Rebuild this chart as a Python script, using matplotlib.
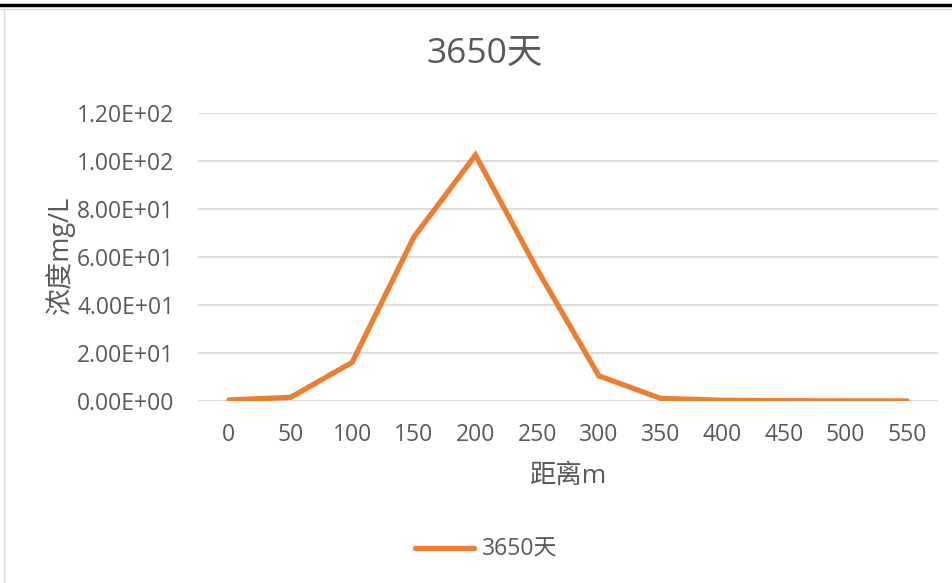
import matplotlib
matplotlib.use("Agg")
import matplotlib.pyplot as plt
from matplotlib.lines import Line2D

plt.rcParams['font.family'] = ['Open Sans', 'Noto Sans CJK SC', 'DejaVu Sans']

categories = ['0', '50', '100', '150', '200', '250', '300', '350', '400', '450', '500', '550']
values = [0.4, 1.5, 16.1, 68.3, 102.5, 54.8, 10.5, 1.1, 0.3, 0.1, 0.05, 0.02]
yticks = [0, 20, 40, 60, 80, 100, 120]
ytick_labels = ['0.00E+00', '2.00E+01', '4.00E+01', '6.00E+01', '8.00E+01', '1.00E+02', '1.20E+02']
series_name = '3650天'
title = '3650天'
xlabel = '距离m'
ylabel = '浓度mg/L'

W, H = 952, 583
fig = plt.figure(figsize=(W / 100, H / 100), dpi=100)
fig.patch.set_facecolor('white')

def fx(px):
    return px / W

def fy(py):
    return 1 - py / H

ax = fig.add_axes([fx(198), fy(401), fx(938) - fx(198), fy(113) - fy(401)])
x = list(range(len(categories)))
ax.plot(x, values, color='#ED7D31', lw=3.8, solid_capstyle='round', solid_joinstyle='miter', label=series_name, zorder=3)
ax.set_xlim(-0.5, len(categories) - 0.5)
ax.set_ylim(0, 120)
ax.set_yticks(yticks)
ax.set_yticklabels(ytick_labels)
ax.set_xticks(x)
ax.set_xticklabels(categories)
for s in ax.spines.values():
    s.set_visible(False)
ax.grid(axis='y', color='#D9D9D9', lw=1.3, zorder=0)
ax.tick_params(axis='both', length=0, labelsize=16.5, labelcolor='#595959')
ax.tick_params(axis='y', pad=17)
ax.tick_params(axis='x', pad=16)

fig.text(fx(485), fy(54), title, ha='center', va='center', fontsize=25.5, color='#595959')
fig.text(fx(568), fy(476), xlabel, ha='center', va='center', fontsize=19, color='#595959')
fig.text(fx(60), fy(256), ylabel, ha='center', va='center', rotation=90, fontsize=19.5, color='#595959')

leg = fig.legend(handles=[Line2D([0], [0], color='#ED7D31', lw=3.8, solid_capstyle='round')],
                 labels=[series_name], loc='center', bbox_to_anchor=(fx(486), fy(550)),
                 frameon=False, fontsize=16.5, handlelength=2.6, handletextpad=0.35)
for t in leg.get_texts():
    t.set_color('#595959')

fig.add_artist(Line2D([0, 1], [fy(5), fy(5)], transform=fig.transFigure, color='black', lw=2.5))
fig.add_artist(Line2D([0.0, 1], [fy(8.5), fy(8.5)], transform=fig.transFigure, color='#D9D9D9', lw=1))
fig.add_artist(Line2D([fx(4), fx(4)], [fy(8.5), 0], transform=fig.transFigure, color='#D9D9D9', lw=1))

fig.savefig('out.png', dpi=100, facecolor='white')
